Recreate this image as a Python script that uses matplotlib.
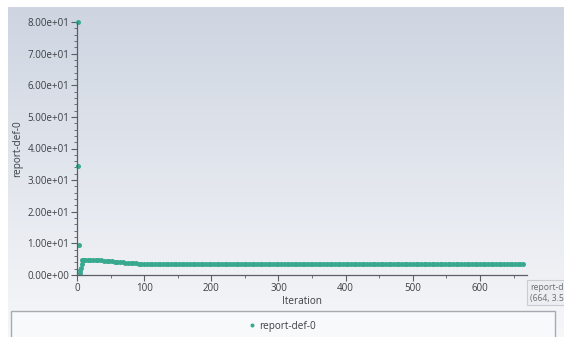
import numpy as np
import matplotlib
matplotlib.use("Agg")
import matplotlib.pyplot as plt
from matplotlib.patches import Rectangle
from matplotlib.ticker import MultipleLocator, FuncFormatter

plt.rcParams['font.family'] = ['Open Sans', 'DejaVu Sans']

# Report definition history (sampled iterations)
iterations = list(range(1, 13)) + list(range(16, 665, 4))
report_values = (
    [80.0, 34.5, 9.6, 0.6, 1.6, 2.3, 3.4, 4.6, 4.8, 4.85, 4.85, 4.85]
    + [4.82, 4.80, 4.76, 4.72, 4.66, 4.60, 4.52, 4.44, 4.36, 4.28, 4.20, 4.12,
       4.04, 3.96, 3.90, 3.84, 3.78, 3.72, 3.66, 3.60, 3.55, 3.50, 3.46, 3.42,
       3.40]
    + [3.38, 3.38, 3.38, 3.37, 3.37, 3.37, 3.37, 3.37, 3.37, 3.37, 3.37, 3.37,
       3.38, 3.38, 3.38]
    + [3.54, 3.54, 3.54, 3.54, 3.54, 3.54, 3.54, 3.54, 3.54, 3.54, 3.54, 3.54,
       3.54, 3.54, 3.54, 3.54, 3.54, 3.54, 3.54, 3.54, 3.54, 3.54, 3.54, 3.54,
       3.54, 3.54, 3.54, 3.54, 3.54, 3.54, 3.54, 3.54, 3.54, 3.54, 3.54, 3.54,
       3.54, 3.54, 3.54, 3.54, 3.54, 3.54, 3.54, 3.54, 3.54, 3.54, 3.54, 3.54,
       3.54, 3.54, 3.54, 3.54, 3.54, 3.54, 3.54, 3.54, 3.54, 3.54, 3.54, 3.54,
       3.54, 3.54, 3.54, 3.54, 3.54, 3.54, 3.54, 3.54, 3.54, 3.54, 3.54, 3.54,
       3.54, 3.54, 3.54, 3.54, 3.54, 3.54, 3.54, 3.54, 3.54, 3.54, 3.54, 3.54,
       3.54, 3.54, 3.54, 3.54, 3.54, 3.54, 3.54, 3.54, 3.54, 3.54, 3.54, 3.54,
       3.54, 3.54, 3.54, 3.54, 3.54, 3.54, 3.54, 3.54, 3.54, 3.54, 3.54, 3.54,
       3.54, 3.54, 3.54, 3.54, 3.54, 3.54, 3.54, 3.54, 3.54, 3.54, 3.54, 3.54,
       3.54, 3.54, 3.54]
)
series_name = "report-def-0"
x_ticks = [0, 100, 200, 300, 400, 500, 600]
y_ticks = [0, 10, 20, 30, 40, 50, 60, 70, 80]

W, H = 564, 337
fig = plt.figure(figsize=(W / 100, H / 100), dpi=100)
fig.patch.set_facecolor('white')

# Panel background with vertical gradient
bg = fig.add_axes([8 / W, 0, 1 - 8 / W, 1 - 7 / H])
bg.set_axis_off()
top = np.array([206, 213, 225]) / 255
bottom = np.array([246, 247, 249]) / 255
t = np.linspace(0, 1, 256)[:, None]
grad = top[None, :] * (1 - t) + bottom[None, :] * t
grad = np.repeat(grad[:, None, :], 2, axis=1)
bg.imshow(grad, aspect='auto', extent=[0, 1, 0, 1], interpolation='bilinear')

teal = '#38a98f'
axis_col = '#5a5f66'
text_col = '#3c3f44'

ax = fig.add_axes([77 / W, 1 - 275 / H, (527 - 77) / W, (275 - 22) / H])
ax.set_facecolor('none')
ax.plot(iterations, report_values, linestyle='none', marker='o',
        markersize=3.6, color=teal, markeredgewidth=0, clip_on=False,
        label=series_name)
ax.set_xlim(0, 670)
ax.set_ylim(0, 80)
for s in ['top', 'right']:
    ax.spines[s].set_visible(False)
for s in ['left', 'bottom']:
    ax.spines[s].set_color(axis_col)
    ax.spines[s].set_linewidth(0.9)
ax.set_xticks(x_ticks)
ax.set_yticks(y_ticks)
ax.xaxis.set_minor_locator(MultipleLocator(50))
ax.yaxis.set_minor_locator(MultipleLocator(2))
ax.yaxis.set_major_formatter(FuncFormatter(lambda v, p: f"{v:.2e}"))
ax.tick_params(axis='both', which='major', length=4, width=0.8,
               color=axis_col, labelsize=7, labelcolor=text_col, pad=1.5)
ax.tick_params(axis='both', which='minor', length=2, width=0.6, color=axis_col)
ax.set_xlabel("Iteration", fontsize=7.2, color=text_col, labelpad=2)
ax.set_ylabel(series_name, fontsize=7.2, color=text_col, labelpad=3)

# Legend panel
fig.add_artist(Rectangle((11 / W, -0.05), (555 - 11) / W, (H - 311) / H + 0.05,
                         transform=fig.transFigure, facecolor='#f8f9fb',
                         edgecolor='#a7abb0', linewidth=1.0))
handles, labels = ax.get_legend_handles_labels()
fig.legend(handles, labels, loc='center', bbox_to_anchor=(0.5, 1 - 326 / H),
           frameon=False, fontsize=7.2, labelcolor=text_col, handlelength=0.6,
           handletextpad=0.4, markerscale=0.8)

# Hover tooltip on the last point
fig.add_artist(Rectangle((527 / W, 1 - 305 / H), 0.2, 25 / H,
                         transform=fig.transFigure, facecolor='#eceef1',
                         edgecolor='#c9ccd0', linewidth=0.8))
fig.text(530 / W, 1 - 287 / H, f"{series_name}", fontsize=6.2,
         color='#6a6e74', va='center', ha='left')
fig.text(530 / W, 1 - 298 / H, f"({iterations[-1]}, {report_values[-1]:.4f})",
         fontsize=6.2, color='#6a6e74', va='center', ha='left')

fig.savefig("out.png", dpi=100)
